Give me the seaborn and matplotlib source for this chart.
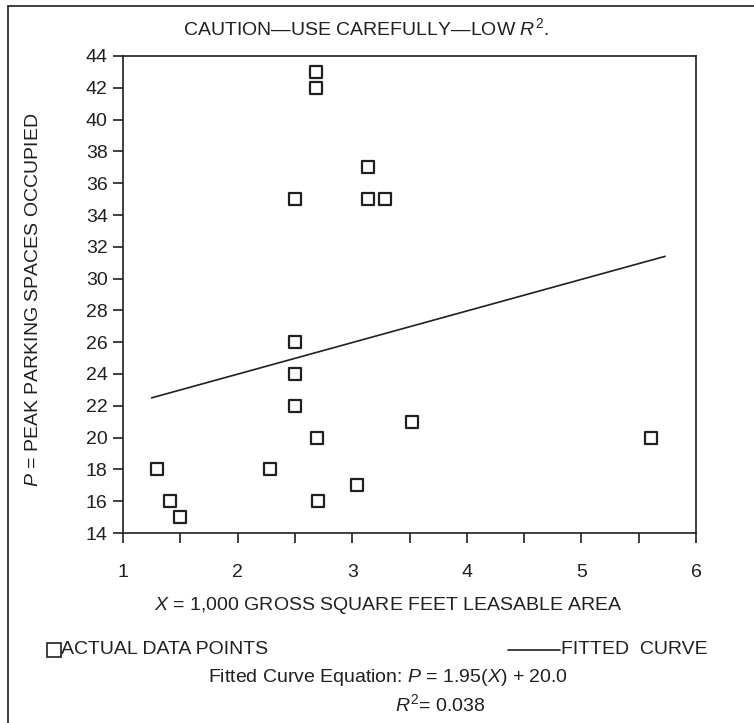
import matplotlib
matplotlib.use("Agg")
import matplotlib.pyplot as plt
import pandas as pd
import seaborn as sns
from matplotlib.lines import Line2D

# ---------------------------------------------------------
# data
# ---------------------------------------------------------
area_x = [1.30, 1.41, 1.50, 2.28, 2.50, 2.50, 2.50, 2.50, 2.68,
          2.68, 2.69, 2.70, 3.04, 3.14, 3.14, 3.29, 3.52, 5.61]
spaces_y = [18, 16, 15, 18, 35, 26, 24, 22, 43,
            42, 20, 16, 17, 37, 35, 35, 21, 20]

fit_x = [1.25, 5.73]
fit_y = [22.5, 31.4]

x_ticks = [1, 2, 3, 4, 5, 6]
y_ticks = list(range(14, 45, 2))

points = pd.DataFrame({"x": area_x, "y": spaces_y})
fit = pd.DataFrame({"x": fit_x, "y": fit_y})

# ---------------------------------------------------------
# style
# ---------------------------------------------------------
sns.set_style("ticks")
plt.rcParams["font.family"] = ["Liberation Sans", "DejaVu Sans"]
plt.rcParams["mathtext.fontset"] = "custom"
plt.rcParams["mathtext.rm"] = "Liberation Sans"
plt.rcParams["mathtext.it"] = "Liberation Sans:italic"
ink = "#231f20"
fs = 14

fig = plt.figure(figsize=(7.54, 7.23), dpi=100)
ax = fig.add_axes([123 / 754, 1 - 533 / 723, 573 / 754, 477 / 723])

sns.lineplot(data=fit, x="x", y="y", ax=ax, color=ink, linewidth=1.2)
sns.scatterplot(data=points, x="x", y="y", ax=ax, marker="s", s=64,
                facecolor="white", edgecolor=ink, linewidth=1.6, zorder=3)

ax.set_xlim(1, 6)
ax.set_ylim(14, 44)
ax.set_xticks(x_ticks)
ax.set_xticks([v + 0.5 for v in x_ticks[:-1]], minor=True)
ax.set_yticks(y_ticks)
ax.tick_params(axis="both", which="both", direction="out", length=7,
               width=1.2, color=ink, labelsize=fs, labelcolor=ink)
ax.tick_params(axis="x", pad=15)
ax.tick_params(axis="y", pad=4)
for sp in ax.spines.values():
    sp.set_visible(True)
    sp.set_linewidth(1.2)
    sp.set_color(ink)
ax.set_xlabel("")
ax.set_ylabel("")

# ---------------------------------------------------------
# texts
# ---------------------------------------------------------
fig.text(366 / 754, 1 - 28 / 723, "CAUTION\u2014USE CAREFULLY\u2014LOW $R^{2}$.",
         ha="center", va="center", fontsize=fs, color=ink)
fig.text(34 / 754, 1 - 300 / 723, "$P$ = PEAK PARKING SPACES OCCUPIED",
         rotation=90, ha="center", va="center", fontsize=fs, color=ink)
fig.text(388 / 754, 1 - 605 / 723, "$X$ = 1,000 GROSS SQUARE FEET LEASABLE AREA",
         ha="center", va="center", fontsize=fs, color=ink)

# legend row
fig.add_artist(Line2D([54 / 754], [1 - 650 / 723], marker="s", markersize=10,
                      markerfacecolor="white", markeredgecolor=ink,
                      markeredgewidth=1.2, linestyle="none",
                      transform=fig.transFigure))
fig.text(61 / 754, 1 - 650 / 723, "ACTUAL DATA POINTS",
         ha="left", va="center", fontsize=fs, color=ink)
fig.add_artist(Line2D([508 / 754, 560 / 754], [1 - 650 / 723, 1 - 650 / 723],
                      color=ink, linewidth=1.2, transform=fig.transFigure))
fig.text(708 / 754, 1 - 650 / 723, "FITTED  CURVE",
         ha="right", va="center", fontsize=fs, color=ink)

fig.text(388 / 754, 1 - 677 / 723, "Fitted Curve Equation: $P$ = 1.95($X$) + 20.0",
         ha="center", va="center", fontsize=fs, color=ink)
fig.text(440 / 754, 1 - 704 / 723, "$R^{2}$= 0.038",
         ha="center", va="center", fontsize=fs, color=ink)

# outer frame (only top and left edges show)
fig.add_artist(Line2D([8 / 754, 1.0], [1 - 6 / 723, 1 - 6 / 723],
                      color=ink, linewidth=1.2, transform=fig.transFigure))
fig.add_artist(Line2D([8 / 754, 8 / 754], [1 - 6 / 723, 0.0],
                      color=ink, linewidth=1.2, transform=fig.transFigure))

fig.savefig("out.png", dpi=100)
